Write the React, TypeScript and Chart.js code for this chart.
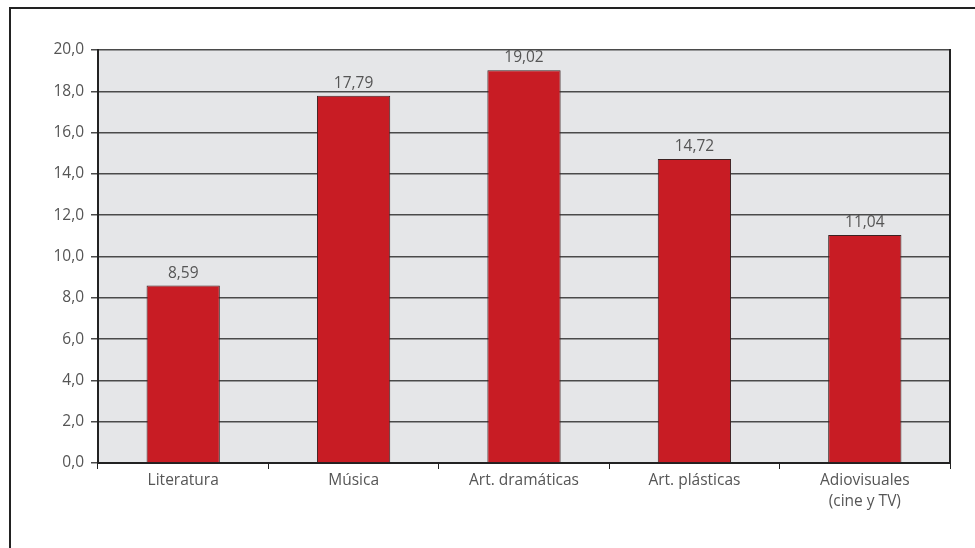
import React, { useEffect, useRef } from "react";
import { Chart, registerables } from "chart.js";

Chart.register(...registerables);

const categories: (string | string[])[] = [
  "Literatura",
  "Música",
  "Art. dramáticas",
  "Art. plásticas",
  ["Adiovisuales", "(cine y TV)"],
];
const values = [8.59, 17.79, 19.02, 14.72, 11.04];
const valueLabels = ["8,59", "17,79", "19,02", "14,72", "11,04"];
const yMin = 0;
const yMax = 20;
const yStep = 2;

const FONT = "'Open Sans', 'Liberation Sans', sans-serif";
const TEXT = "#555555";
const FS = 15.5;

export default function App() {
  const ref = useRef<HTMLCanvasElement | null>(null);

  useEffect(() => {
    if (!ref.current) return;
    const framePlugin = {
      id: "frame",
      beforeDraw(chart: any) {
        const { ctx, chartArea } = chart;
        ctx.save();
        ctx.fillStyle = "#e5e6e8";
        ctx.fillRect(chartArea.left, chartArea.top, chartArea.right - chartArea.left, chartArea.bottom - chartArea.top);
        ctx.strokeStyle = "#222222";
        ctx.lineWidth = 2;
        ctx.beginPath();
        ctx.moveTo(10, 548);
        ctx.lineTo(10, 8);
        ctx.lineTo(975, 8);
        ctx.stroke();
        ctx.restore();
      },
      afterDraw(chart: any) {
        const { ctx, chartArea } = chart;
        ctx.save();
        ctx.strokeStyle = "#222222";
        ctx.lineWidth = 2;
        ctx.beginPath();
        ctx.moveTo(chartArea.right, chartArea.top - 1);
        ctx.lineTo(chartArea.right, chartArea.bottom);
        ctx.stroke();
        ctx.restore();
      },
      afterDatasetsDraw(chart: any) {
        const { ctx } = chart;
        const meta = chart.getDatasetMeta(0);
        ctx.save();
        ctx.fillStyle = TEXT;
        ctx.font = `${FS}px ${FONT}`;
        ctx.textAlign = "center";
        ctx.textBaseline = "alphabetic";
        meta.data.forEach((bar: any, i: number) => {
          ctx.fillText(valueLabels[i], bar.x, bar.y - 8);
        });
        ctx.restore();
      },
    };

    const chart = new Chart(ref.current, {
      type: "bar",
      data: {
        labels: categories,
        datasets: [
          {
            data: values,
            backgroundColor: "#c81c24",
            borderColor: "#3c2222",
            borderWidth: 1,
            barPercentage: 0.43,
            categoryPercentage: 1,
          },
        ],
      },
      options: {
        animation: false,
        responsive: false,
        maintainAspectRatio: false,
        layout: { padding: { left: 0, top: 50, right: 25, bottom: 0 } },
        plugins: { legend: { display: false }, tooltip: { enabled: false } },
        scales: {
          x: {
            offset: true,
            grid: {
              offset: true,
              drawOnChartArea: false,
              drawTicks: true,
              tickLength: 6,
              color: "#222222",
              lineWidth: 1,
            },
            border: { color: "#222222", width: 2 },
            ticks: {
              color: TEXT,
              font: { family: FONT, size: FS, lineHeight: 1.3 },
              padding: 2,
              maxRotation: 0,
              autoSkip: false,
            },
            afterFit(scale: any) {
              scale.height = 85;
            },
          },
          y: {
            min: yMin,
            max: yMax,
            grid: {
              color: "#4a4a4a",
              lineWidth: 1.5,
              drawTicks: true,
              tickLength: 7,
            },
            border: { color: "#222222", width: 2 },
            ticks: {
              stepSize: yStep,
              color: TEXT,
              font: { family: FONT, size: FS },
              padding: 7,
              callback: (v: any) => Number(v).toFixed(1).replace(".", ","),
            },
            afterFit(scale: any) {
              scale.width = 98;
            },
          },
        },
      },
      plugins: [framePlugin],
    });
    return () => chart.destroy();
  }, []);

  return (
    <div style={{ position: "fixed", left: 0, top: 0, width: 975, height: 548, background: "#ffffff" }}>
      <canvas ref={ref} width={975} height={548} style={{ width: 975, height: 548, display: "block" }} />
    </div>
  );
}
